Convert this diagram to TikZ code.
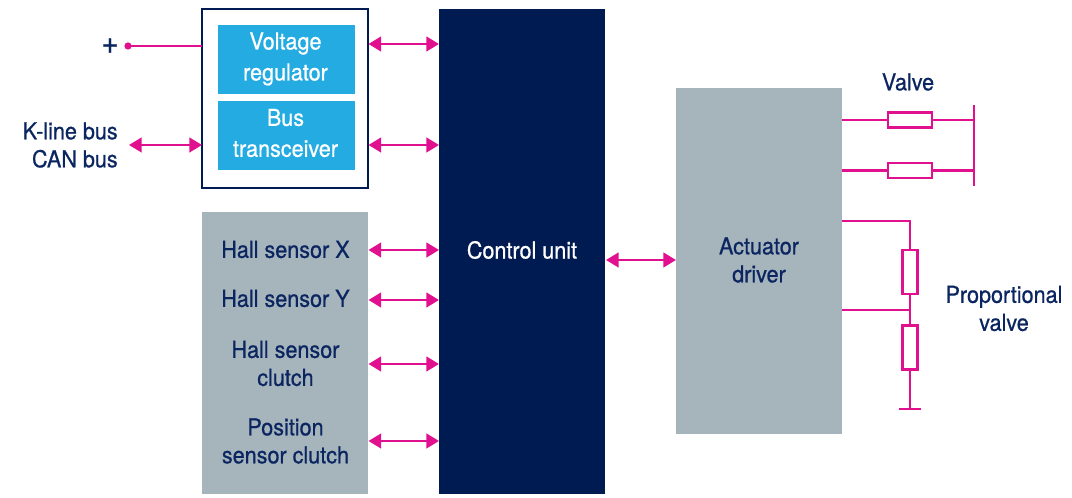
\documentclass[tikz,border=0pt]{standalone}
\usepackage{fontspec}
\setmainfont[FakeStretch=0.925,FakeBold=0.7]{TeX Gyre Heros}
\usetikzlibrary{arrows.meta,calc}
\definecolor{navy}{HTML}{0A2560}
\definecolor{dnavy}{HTML}{001A52}
\definecolor{sky}{HTML}{24ABE2}
\definecolor{greyb}{HTML}{A6B4BC}
\definecolor{pink}{HTML}{E0108F}
\tikzset{
 x=0.75pt,y=-0.75pt,
 txt/.style={font=\fontsize{17.5pt}{21pt}\selectfont,text=navy,align=center,inner sep=0},
 wtxt/.style={txt,text=white,font=\fontsize{17.5pt}{23.2pt}\selectfont},
 blk/.style={inner sep=0,outer sep=0,minimum width=#1*0.75pt},
 wire/.style={draw=pink,line width=1.8pt},
 dbl/.style={wire,{Triangle[length=9.5pt,width=11pt]}-{Triangle[length=9.5pt,width=11pt]}},
 res/.style={draw=pink,line width=1.8pt,fill=white,inner sep=0,outer sep=0},
}
\begin{document}
\begin{tikzpicture}
\useasboundingbox (0,0) rectangle (1072,498);
\node[draw=dnavy,line width=2.1pt,fill=white,blk=166,minimum height=179*0.75pt] (outer) at (285,98.5) {};
\node[fill=sky,blk=137,minimum height=69*0.75pt] (vreg) at (286.5,59.5) {};
\node[wtxt] (vregtxt) at (285.5,59) {Voltage\\regulator};
\node[fill=sky,blk=137,minimum height=69*0.75pt] (bus) at (286.5,135.5) {};
\node[wtxt] (bustxt) at (285.5,133) {Bus\\transceiver};
\node[fill=dnavy,blk=166,minimum height=485*0.75pt] (ctrl) at (522,251.5) {};
\node[wtxt] (ctrltxt) at (522,250) {Control unit};
\node[fill=greyb,blk=166,minimum height=282*0.75pt] (sens) at (285,353) {};
\node[fill=greyb,blk=166,minimum height=346*0.75pt] (act) at (759,261) {};
\node[txt] (acttxt) at (759,260) {Actuator\\driver};
\node[txt] (hx) at (285.5,249.5) {Hall sensor X};
\node[txt] (hy) at (285.5,298.5) {Hall sensor Y};
\node[txt] (hc) at (285.5,363.5) {Hall sensor\\clutch};
\node[txt] (pc) at (285.5,441) {Position\\sensor clutch};
\node[txt,font=\fontsize{24pt}{24pt}\selectfont] (plus) at (110,46) {+};
\node[txt,align=right,anchor=east] (kline) at (118,145) {K-line bus\\CAN bus};
\node[txt] (valve) at (908,82) {Valve};
\node[txt] (prop) at (1004,308.5) {Proportional\\valve};
% dot
\coordinate (dot) at (128,46);
\fill[pink] (dot) circle[radius=3.6];
\draw[wire] (dot) -- (dot -| outer.west);
\coordinate (buswest) at (129,145);
\draw[dbl] (buswest) -- (buswest -| outer.west);
% to control unit
\foreach \y in {44,145,250,300,364,441}{
 \coordinate (a) at (368.5,\y);
 \draw[dbl] (a) -- (a -| ctrl.west);
}
\coordinate (cact) at (606,260);
\draw[dbl] (cact) -- (cact -| act.west);
% valves
\node[res,minimum width=44*0.75pt,minimum height=15*0.75pt] (v1) at (910,120) {};
\node[res,minimum width=44*0.75pt,minimum height=15*0.75pt] (v2) at (910,170.5) {};
\coordinate (bartop) at (974,105);
\coordinate (barbot) at (974,186);
\draw[wire] (bartop) -- (barbot);
\draw[wire] (v1.west -| act.east) -- (v1.west);
\draw[wire] (v1.east) -- (v1.east -| bartop);
\draw[wire] (v2.west -| act.east) -- (v2.west);
\draw[wire] (v2.east) -- (v2.east -| bartop);
% proportional
\node[res,minimum width=15*0.75pt,minimum height=44*0.75pt] (p1) at (910,272) {};
\node[res,minimum width=15*0.75pt,minimum height=44*0.75pt] (p2) at (910,347.5) {};
\coordinate (ptop) at (842,221);
\coordinate (pmid) at (842,310);
\coordinate (gnd) at (910,409);
\draw[wire] (ptop) -| (p1.north);
\draw[wire] (p1.south) -- (p2.north);
\draw[wire] (pmid) -- (pmid -| p1.south);
\draw[wire] (p2.south) -- (gnd);
\draw[wire] ($(gnd)+(-11,0)$) -- ($(gnd)+(11,0)$);
\end{tikzpicture}
\end{document}
